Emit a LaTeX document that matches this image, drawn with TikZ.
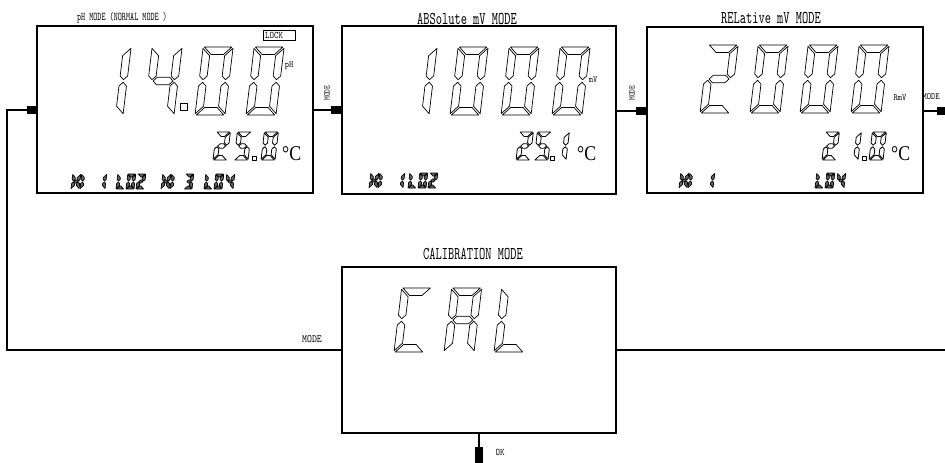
\documentclass[tikz,border=0pt]{standalone}
\usepackage{fontspec}
\setmainfont{Liberation Serif}
\newfontfamily\mf{lmmono10-regular.otf}[FakeStretch=0.66]
\newfontfamily\mfw{lmmono10-regular.otf}[FakeStretch=0.85]
\newfontfamily\cf{Liberation Serif}[FakeStretch=0.85]

% seven segment pieces in a [0,1]x[0,2] cell
\newcommand\sgpa[1]{\draw[#1] (\sggx,2) -- (1-\sggx,2) -- (1-\sgtx-\sggx,2-\sgty) -- (\sgtx+\sggx,2-\sgty) -- cycle;}
\newcommand\sgpd[1]{\draw[#1] (\sggx,0) -- (1-\sggx,0) -- (1-\sgtx-\sggx,\sgty) -- (\sgtx+\sggx,\sgty) -- cycle;}
\newcommand\sgpf[1]{\draw[#1] (0,2-\sggy) -- (\sgtx,2-\sgty-\sggy) -- (\sgtx,1+\sgty/2+\sggy) -- (\sgtx/2,1+\sggy) -- (0,1+\sgty/2+\sggy) -- cycle;}
\newcommand\sgpe[1]{\draw[#1] (0,\sggy) -- (\sgtx,\sgty+\sggy) -- (\sgtx,1-\sgty/2-\sggy) -- (\sgtx/2,1-\sggy) -- (0,1-\sgty/2-\sggy) -- cycle;}
\newcommand\sgpb[1]{\draw[#1] (1,2-\sggy) -- (1-\sgtx,2-\sgty-\sggy) -- (1-\sgtx,1+\sgty/2+\sggy) -- (1-\sgtx/2,1+\sggy) -- (1,1+\sgty/2+\sggy) -- cycle;}
\newcommand\sgpc[1]{\draw[#1] (1,\sggy) -- (1-\sgtx,\sgty+\sggy) -- (1-\sgtx,1-\sgty/2-\sggy) -- (1-\sgtx/2,1-\sggy) -- (1,1-\sgty/2-\sggy) -- cycle;}
\newcommand\sgpg[1]{\draw[#1] (\sgtx/2+\sggx,1) -- (\sgtx+\sggx,1+\sgty/2) -- (1-\sgtx-\sggx,1+\sgty/2) -- (1-\sgtx/2-\sggx,1) -- (1-\sgtx-\sggx,1-\sgty/2) -- (\sgtx+\sggx,1-\sgty/2) -- cycle;}
% digit: x y (bottom-left, image px) width halfheight thickness gap segments style
\newcommand\sdig[8]{%
  \begin{scope}[shift={(#1,#2)},yscale=-1,xslant=-0.12,xscale=#3,yscale=#4]
    \pgfmathsetmacro\sgtx{#5/#3}\pgfmathsetmacro\sgty{#5/#4}%
    \pgfmathsetmacro\sggx{#6/#3}\pgfmathsetmacro\sggy{#6/#4}%
    \foreach \q in {#7}{\csname sgp\q\endcsname{#8}}%
  \end{scope}}
\newcommand\bigd[3]{\sdig{#1}{#2}{30}{34}{7.5}{1.3}{#3}{seg}}
\newcommand\cald[3]{\sdig{#1}{#2}{30}{32}{7.5}{1.3}{#3}{seg}}
\newcommand\tmpd[3]{\sdig{#1}{#2}{14}{14}{4.5}{0.8}{#3}{segt}}
\newcommand\smd[3]{\sdig{#1}{#2}{8}{7.5}{3}{0.5}{#3}{sb}}

\begin{document}
\begin{tikzpicture}[x=1pt,y=-1pt,
  panel/.style={draw=black, line width=1.8pt, inner sep=0pt, rectangle},
  sq/.style={fill=black, draw=none, inner sep=0pt, minimum width=10pt, minimum height=8pt},
  conn/.style={line width=1.6pt},
  ttl/.style={font=\mf\fontsize{18}{18}\selectfont, inner sep=0pt},
  stl/.style={font=\mf\fontsize{11.8}{12}\selectfont, inner sep=0pt},
  lab/.style={font=\mfw\fontsize{11}{11}\selectfont, inner sep=0pt},
  unit/.style={font=\mfw\fontsize{9.5}{10}\selectfont, inner sep=0pt},
  degc/.style={font=\cf\fontsize{21}{21}\selectfont, inner sep=0pt},
  seg/.style={draw=black, line width=0.7pt, fill=white, line join=round},
  segt/.style={draw=black, line width=0.8pt, fill=white, line join=round},
  sb/.style={draw=black, line width=0.7pt, fill=black!60, line join=round}]
\useasboundingbox (0,0) rectangle (945,463);

% panels
\node[panel, minimum width=276pt, minimum height=167pt] (p1) at (175,109.5) {};
\node[panel, minimum width=274pt, minimum height=168pt] (p2) at (479,110) {};
\node[panel, minimum width=276pt, minimum height=166pt] (p3) at (785,110) {};
\node[panel, minimum width=274pt, minimum height=166pt] (p4) at (479,350) {};

% titles
\node[stl] (t1) at (122,17.5) {pH MODE (NORMAL MODE )};
\node[ttl] (t2) at (467,18.5) {ABSolute mV MODE};
\node[ttl] (t3) at (771,18.5) {RELative mV MODE};
\node[ttl] (t4) at (473,253.5) {CALIBRATION MODE};

% connector squares
\node[sq] (s1) at (32,110) {};
\node[sq, minimum width=11pt] (s2) at (336.5,110) {};
\node[sq, minimum width=11pt] (s3) at (641.5,111) {};
\node[sq] (s4) at (942,111) {};
\node[sq, minimum width=8pt, minimum height=16pt] (s5) at (479,455) {};

\coordinate (cl1) at (7,110);
\coordinate (cl2) at (7,350);
\coordinate (cr) at (947,350);
\draw[conn] (s1.west) -- (cl1) -- (cl2) -- (p4.west);
\draw[conn] (p1.east |- s2.west) -- (s2.west);
\draw[conn] (p2.east |- s3.west) -- (s3.west);
\draw[conn] (p3.east |- s4.west) -- (s4.west);
\draw[conn] (p4.east) -- (cr);
\draw[conn] (p4.south) -- (s5.north);

% connector labels
\node[lab, rotate=90, font=\mfw\fontsize{8.5}{9}\selectfont] (m1) at (327,93) {MODE};
\node[lab, rotate=90, font=\mfw\fontsize{8.5}{9}\selectfont] (m2) at (632,93) {MODE};
\node[lab, font=\mfw\fontsize{9.5}{10}\selectfont] (m3) at (931,97) {MODE};
\node[lab] (m4) at (312,339.5) {MODE};
\node[lab, font=\mfw\fontsize{10}{10}\selectfont] (ok) at (500,452) {OK};

% LOCK
\node[draw=black, line width=0.9pt, minimum width=32pt, minimum height=10pt, inner sep=0pt] (lk) at (279,35) {};
\node[unit, anchor=west, font=\mfw\fontsize{10}{10}\selectfont] (lkt) at (265,35.5) {LOCK};

% units
\node[unit] (u1) at (289,66) {pH};
\node[unit] (u2) at (593,80) {mV};
\node[unit] (u3) at (900,98) {RmV};

% degree C
\node[degc, anchor=base west] (c1) at (282,160) {°C};
\node[degc, anchor=base west] (c2) at (577,160) {°C};
\node[degc, anchor=base west] (c3) at (891,160) {°C};

% ---- panel 1: 14.00
\bigd{93}{115}{b,c}
\bigd{144}{115}{f,g,b,c}
\draw[seg] (180,110) rectangle (187,103);
\bigd{195}{115}{a,b,c,d,e,f}
\bigd{246}{115}{a,b,c,d,e,f}
% 25.0
\tmpd{213}{160}{a,b,g,e,d}
\tmpd{234}{160}{a,f,g,c,d}
\draw[segt] (252.5,160) rectangle (256.5,156);
\tmpd{261}{160}{a,b,c,d,e,f}
% HI 1 LO2 HI 3 LO4
\smd{71}{189}{b,c,e,f,g}
\smd{80}{189}{e,f}
\smd{97}{189}{b,c}
\smd{116}{189}{f,e,d}
\smd{126}{189}{a,b,c,d,e,f}
\smd{136}{189}{a,b,g,e,d}
\smd{161}{189}{b,c,e,f,g}
\smd{170}{189}{e,f}
\smd{184}{189}{a,b,g,c,d}
\smd{204}{189}{f,e,d}
\smd{214}{189}{a,b,c,d,e,f}
\smd{225}{189}{f,g,b,c}

% ---- panel 2: 1000
\bigd{399}{115}{b,c}
\bigd{450}{115}{a,b,c,d,e,f}
\bigd{501}{115}{a,b,c,d,e,f}
\bigd{552}{115}{a,b,c,d,e,f}
% 25. 1
\tmpd{516}{160}{a,b,g,e,d}
\tmpd{534}{160}{a,f,g,c,d}
\draw[segt] (550,160) rectangle (554,156);
\tmpd{552}{160}{b,c}
% HI 1 LO2
\smd{369}{188}{b,c,e,f,g}
\smd{378}{188}{e,f}
\smd{395}{188}{b,c}
\smd{408}{188}{f,e,d}
\smd{418}{188}{a,b,c,d,e,f}
\smd{428}{188}{a,b,g,e,d}

% ---- panel 3: 2000
\bigd{700}{113}{a,b,g,e,d}
\bigd{750}{113}{a,b,c,d,e,f}
\bigd{800}{113}{a,b,c,d,e,f}
\bigd{851}{113}{a,b,c,d,e,f}
% 2 1.0
\tmpd{822}{160}{a,b,g,e,d}
\tmpd{844}{160}{b,c}
\draw[segt] (862,160) rectangle (866,156);
\tmpd{869}{160}{a,b,c,d,e,f}
% HI 1   LO4
\smd{679}{188}{b,c,e,f,g}
\smd{688}{188}{e,f}
\smd{705}{188}{b,c}
\smd{815}{188}{f,e,d}
\smd{825}{188}{a,b,c,d,e,f}
\smd{836}{188}{f,g,b,c}

% ---- calibration: CAL
\cald{394}{352}{a,f,e,d}
\cald{444}{352}{a,b,c,e,f,g}
\cald{494}{352}{f,e,d}
\end{tikzpicture}
\end{document}
